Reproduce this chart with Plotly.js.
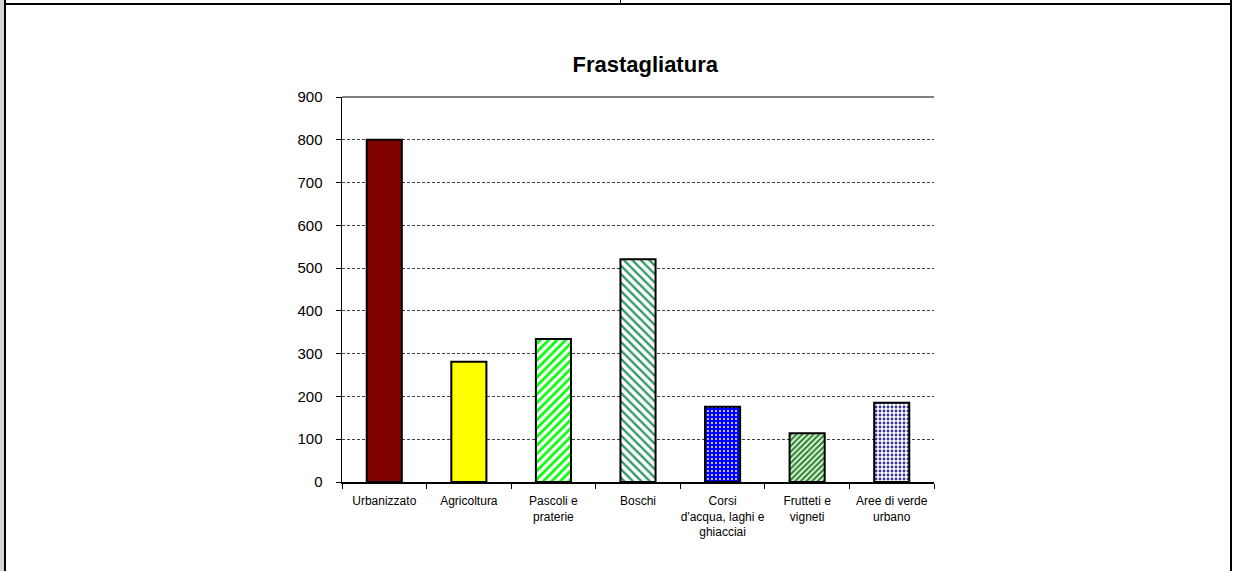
<!DOCTYPE html>
<html>
<head>
<meta charset="utf-8">
<script src="https://cdn.plot.ly/plotly-3.0.1.min.js"></script>
<style>
  html, body { margin: 0; padding: 0; background: #ffffff; }
  #wrap { position: relative; width: 1236px; height: 571px; overflow: hidden; }
  #chart { position: absolute; left: 0; top: 0; width: 1236px; height: 571px; }
  .b { position: absolute; background: #000; z-index: 5; }
</style>
</head>
<body>
<div id="wrap">
  <div id="chart"></div>
  <div class="b" style="left:0;top:0;width:4px;height:571px;background:#d4d4d4;"></div>
  <div class="b" style="left:4px;top:0;width:2px;height:571px;"></div>
  <div class="b" style="left:4px;top:3px;width:1228px;height:2px;"></div>
  <div class="b" style="left:620px;top:0;width:1px;height:4px;"></div>
  <div class="b" style="left:1230px;top:0;width:2px;height:571px;"></div>
</div>
<script>
const categories = ["Urbanizzato", "Agricoltura", "Pascoli e<br>praterie", "Boschi",
  "Corsi<br>d'acqua, laghi e<br>ghiacciai", "Frutteti e<br>vigneti", "Aree di verde<br>urbano"];
const values = [800, 281, 334, 521, 176, 114, 185];
const patternShapes = ["/", "/", "/", "\\", ".", "/", "."];
const patternFg = ["#800000", "#ffff00", "#00ff00", "#339966", "#ffffff", "#2e8b2e", "#333399"];
const patternBg = ["#800000", "#ffff00", "#ffffff", "#ffffff", "#0000ff", "#ffffff", "#ffffff"];
const patternSize = [8, 8, 6, 6, 4, 4, 4];
const patternSolidity = [0.5, 0.5, 0.45, 0.4, 0.2, 0.6, 0.4];

const FONT = "Liberation Sans, Arial, sans-serif";

const trace = {
  type: "bar",
  x: categories,
  y: values,
  marker: {
    color: "#ffffff",
    line: { color: "#000000", width: 2 },
    pattern: {
      shape: patternShapes,
      fgcolor: patternFg,
      bgcolor: patternBg,
      size: patternSize,
      solidity: patternSolidity,
      fillmode: "replace"
    }
  },
  hoverinfo: "x+y"
};

const layout = {
  width: 1236,
  height: 571,
  margin: { l: 342, r: 302, t: 97, b: 89 },
  paper_bgcolor: "#ffffff",
  plot_bgcolor: "#ffffff",
  bargap: 0.585,
  showlegend: false,
  font: { family: FONT, color: "#000000" },
  title: {
    text: "<b>Frastagliatura</b>",
    font: { family: FONT, size: 22, color: "#000000" },
    xref: "container", yref: "container",
    x: 0.522, y: 1 - 64 / 571,
    xanchor: "center", yanchor: "middle"
  },
  xaxis: {
    type: "category",
    showline: true,
    linecolor: "#000000",
    linewidth: 1.5,
    ticks: "outside",
    tickson: "boundaries",
    ticklen: 5,
    tickcolor: "#000000",
    tickwidth: 1,
    showgrid: false,
    zeroline: false,
    tickangle: 0,
    tickfont: { family: FONT, size: 12, color: "#000000" },
    ticklabelstandoff: 7,
    fixedrange: true
  },
  yaxis: {
    range: [0, 900],
    dtick: 100,
    tick0: 0,
    showline: true,
    linecolor: "#000000",
    linewidth: 1.5,
    ticks: "outside",
    ticklen: 5,
    tickcolor: "#000000",
    tickwidth: 1,
    showgrid: true,
    gridcolor: "#404040",
    gridwidth: 1,
    griddash: "3px,2px",
    zeroline: false,
    tickfont: { family: FONT, size: 15, color: "#000000" },
    ticklabelstandoff: 10,
    fixedrange: true
  },
  shapes: [
    { type: "line", xref: "paper", yref: "paper", x0: 0, x1: 1, y0: 1, y1: 1,
      line: { color: "#808080", width: 2 } }
  ]
};

Plotly.newPlot("chart", [trace], layout, { displayModeBar: false, staticPlot: true });
</script>
</body>
</html>
